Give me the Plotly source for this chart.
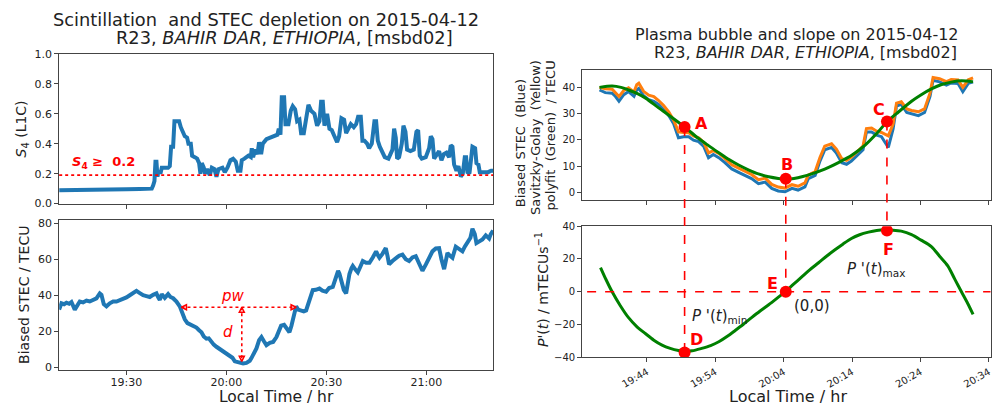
import plotly.graph_objects as go
import pandas as pd

BASE = pd.Timestamp("2015-04-12 19:00:00")


def ts(m):
    return (BASE + pd.Timedelta(minutes=m)).strftime("%Y-%m-%d %H:%M:%S.%f")[:-3]


def tlist(ms):
    return [ts(m) for m in ms]


# ---------------- data (time in minutes after 19:00 local time) ----------------
s4_min = [9.8, 14, 18, 22, 26, 30, 34, 37.6, 38.0, 38.4, 38.7, 39.0, 39.3, 39.7, 40.2, 40.6,
          42.5, 43.0, 43.4, 44.0, 44.4, 45.8, 46.3, 47.0, 47.5, 48.2, 48.6, 49.3, 49.7, 50.5,
          51.2, 51.8, 52.2, 52.6, 53.2, 53.6, 54.2, 55.0, 55.6, 56.4, 57.0, 57.6, 58.8, 59.5,
          60.3, 61.2, 62.0, 62.8, 63.4, 64.2, 64.6, 65.4, 66.6, 67.3, 67.6, 68.0, 68.6, 69.3,
          69.8, 70.4, 70.9, 72.0, 73.0, 74.2, 75.3, 75.7, 76.2, 76.6, 77.3, 77.7, 78.6, 79.3,
          79.9, 80.6, 81.2, 81.9, 82.4, 83.2, 83.8, 84.6, 85.4, 86.4, 87.2, 87.9, 88.4, 88.9,
          89.4, 90.2, 90.9, 91.6, 92.4, 93.2, 93.8, 94.5, 95.3, 95.9, 96.6, 97.3, 98.2, 98.9,
          99.5, 100.3, 100.8, 101.4, 102.2, 102.8, 103.6, 104.4, 104.9, 105.4, 106.0, 106.8,
          107.5, 108.6, 109.8, 110.3, 110.8, 111.2, 111.8, 112.6, 113.1, 113.7, 114.2, 115.2,
          116.2, 117.0, 117.5, 118.0, 118.6, 119.8, 120.8, 121.3, 121.8, 122.3, 123.0, 123.8,
          124.5, 125.2, 126.0, 126.8, 127.3, 127.8, 128.3, 129.0, 129.6, 130.3, 130.9, 131.5,
          131.9, 132.3, 132.9, 133.4, 133.8, 134.6, 135.0, 135.6, 136.0, 137.5, 138.5, 139.4, 140.0]
s4_val = [0.09, 0.09, 0.092, 0.094, 0.095, 0.096, 0.098, 0.10, 0.12, 0.15, 0.28, 0.28, 0.18, 0.22, 0.20, 0.24,
          0.24, 0.25, 0.38, 0.38, 0.55, 0.55, 0.51, 0.48, 0.45, 0.44, 0.40, 0.40, 0.32, 0.31,
          0.30, 0.27, 0.20, 0.27, 0.24, 0.20, 0.23, 0.19, 0.24, 0.23, 0.18, 0.23, 0.24, 0.21,
          0.24, 0.29, 0.30, 0.28, 0.22, 0.22, 0.29, 0.30, 0.32, 0.31, 0.37, 0.31, 0.36, 0.33,
          0.41, 0.33, 0.40, 0.43, 0.44, 0.45, 0.46, 0.50, 0.46, 0.71, 0.71, 0.53, 0.53, 0.62,
          0.65, 0.63, 0.55, 0.56, 0.47, 0.47, 0.55, 0.66, 0.62, 0.60, 0.52, 0.55, 0.68, 0.68,
          0.52, 0.60, 0.50, 0.49, 0.45, 0.41, 0.45, 0.57, 0.56, 0.47, 0.50, 0.53, 0.51, 0.53,
          0.58, 0.58, 0.42, 0.42, 0.40, 0.37, 0.40, 0.55, 0.55, 0.42, 0.38, 0.34,
          0.31, 0.30, 0.36, 0.50, 0.44, 0.30, 0.31, 0.40, 0.52, 0.48, 0.36, 0.35,
          0.36, 0.48, 0.49, 0.32, 0.30, 0.31, 0.37, 0.45, 0.43, 0.30, 0.33, 0.35,
          0.29, 0.33, 0.34, 0.31, 0.39, 0.38, 0.26, 0.22, 0.25, 0.18, 0.20, 0.31,
          0.31, 0.21, 0.20, 0.32, 0.38, 0.37, 0.27, 0.26, 0.21, 0.21, 0.21, 0.22, 0.22]
s4_threshold = 0.19

stec_min = [9.8, 10.5, 11.3, 12.0, 12.8, 13.5, 14.5, 15.0, 16.0, 17.0, 18.0, 19.0, 20.0, 21.0,
            22.0, 22.5, 23.2, 24.0, 25.0, 26.0, 27.0, 28.0, 29.0, 30.0, 31.0, 32.0, 33.0, 34.0,
            35.0, 36.0, 37.0, 38.0, 39.0, 39.5, 40.0, 40.6, 41.5, 42.5, 43.2, 44.0, 45.0, 46.0,
            46.8, 47.5, 48.3, 49.0, 50.0, 51.0, 51.8, 52.5, 53.2, 54.0, 54.7, 55.5, 56.2, 57.0,
            58.0, 59.0, 60.0, 61.0, 61.8, 62.5, 63.5, 64.0, 65.0, 66.0, 67.0, 67.5, 68.3, 69.0,
            69.8, 70.5, 71.2, 72.0, 73.0, 74.0, 75.0, 75.8, 76.4, 77.3, 78.0, 78.9, 79.5, 79.9,
            80.5, 80.9, 81.5, 82.5, 83.2, 83.9, 84.5, 85.2, 85.9, 86.8, 87.9, 88.8, 89.9, 90.8,
            91.9, 92.5, 92.9, 93.5, 93.9, 94.5, 95.2, 95.9, 96.5, 96.9, 97.5, 97.9, 98.8, 99.4,
            100.2, 100.9, 101.9, 102.9, 103.9, 104.9, 105.5, 105.9, 106.8, 107.8, 108.3, 108.8,
            109.8, 110.8, 111.8, 112.8, 113.8, 114.8, 115.8, 116.8, 117.8, 118.8, 119.8, 120.8,
            121.8, 122.8, 123.8, 124.5, 125.3, 125.8, 126.3, 127.0, 127.8, 128.8, 129.8, 130.8,
            131.5, 132.3, 133.2, 133.8, 134.5, 135.0, 135.8, 136.8, 137.8, 138.8, 139.3, 140.0]
stec_val = [32, 35.5, 35.0, 35.8, 35.2, 36.2, 32, 33.5, 36.5, 36.0, 37.0, 36.5, 37.4, 38.2,
            41.0, 40.2, 35, 33.8, 35.5, 36.5, 36.5, 37.2, 38.0, 38.8, 40.0, 41.0, 42.4, 41.2,
            40.0, 39.5, 39.0, 40.2, 41.0, 39.0, 37.4, 40.6, 38.5, 40.6, 39, 38.3, 36.5, 33.8,
            30.0, 26.6, 24.5, 24.0, 23.0, 22.0, 20.5, 19.4, 17.0, 15.8, 16.0, 14.0, 12.5, 11.3,
            10.0, 8.6, 7.0, 5.9, 5.2, 3.2, 2.6, 2.3, 2.0, 2.3, 3.5, 5.0, 8.0, 10.4,
            15.0, 16.7, 14.5, 12.2, 13.5, 14.0, 16.7, 20.0, 23.0, 23.5, 22.0, 19.4, 23.0, 26.6,
            30.0, 33.8, 32.0, 31.5, 31.0, 31.5, 35.0, 40.0, 42.8, 43.0, 43.7, 42.5, 41.9, 44.0,
            44.6, 48.0, 50.0, 53.6, 52.0, 48.2, 43.0, 41.0, 48.0, 51.8, 55.0, 56.3, 54.0, 52.7,
            56.0, 59.0, 58.0, 58.0, 61.0, 64.4, 62.0, 60.8, 63.0, 66.2, 62.0, 57.2,
            59.0, 60.8, 62.0, 62.6, 60.0, 59.0, 61.0, 61.7, 58.0, 53.6, 57.0, 60.8,
            64.4, 66.0, 66.2, 60.0, 54.5, 59.0, 63.5, 62.0, 60.8, 67.0, 65.5, 64.4,
            67.0, 69.8, 72.0, 77.0, 74.0, 69.0, 69.8, 71.0, 73.3, 71.6, 74.0, 76.0]

# depletion annotation (pw / d)
pw_start, pw_end, pw_level = 46.5, 80.9, 33.3
d_time, d_bottom = 64.6, 3.2

# right panel: STEC (blue), Savitzky-Golay (orange), polyfit (green)
bub_min = [37.05, 37.9, 38.9, 39.4, 39.9, 40.6, 41.3, 42.1, 42.5, 42.8, 43.5, 44.25, 45.0, 45.7,
           46.4, 47.2, 47.9, 48.3, 48.6, 49.35, 50.1, 50.8, 51.55, 52.3, 53.0, 53.7, 54.5, 55.4,
           56.4, 57.4, 58.4, 59.3, 60.3, 61.3, 62.25, 63.2, 64.2, 65.2, 66.1, 67.1, 67.6, 68.6,
           69.3, 70.0, 71.0, 71.7, 72.5, 73.2, 73.9, 74.9, 75.6, 76.1, 76.85, 77.6, 78.3, 79.3,
           80.0, 80.5, 81.2, 82.0, 82.7, 83.7, 84.6, 85.4, 85.85, 86.8, 87.8, 88.5, 89.5, 90.2,
           91.0, 91.7]
bub_blue = [39.0, 38.0, 37.8, 36.5, 34.7, 37.2, 38.4, 36.6, 39.0, 39.6, 36.8, 35.3, 34.7, 33.5,
            31.6, 29.2, 26.1, 23.0, 20.8, 21.2, 21.2, 19.9, 19.3, 17.5, 13.2, 14.4, 13.2, 11.3,
            8.9, 7.6, 6.4, 5.2, 3.3, 3.9, 1.5, 0.5, 0.2, 1.5, 0.85, 2.1, 5.2, 6.4,
            11.9, 16.2, 17.1, 15.0, 11.3, 10.7, 11.9, 14.4, 16.2, 23.0, 23.0, 21.8, 21.2, 17.1,
            24.2, 32.9, 33.5, 30.4, 29.8, 29.2, 30.4, 36.6, 42.7, 42.1, 40.9, 41.7, 41.5, 38.4,
            41.5, 42.1]
bub_orange = [40.0, 39.5, 39.3, 38.0, 36.5, 38.8, 39.8, 38.2, 41.0, 41.6, 38.5, 37.0, 36.5, 35.0,
              33.2, 30.6, 27.5, 25.0, 23.0, 22.8, 22.7, 21.5, 20.8, 19.0, 15.0, 15.9, 14.8, 12.8,
              10.5, 9.2, 8.0, 6.8, 4.8, 5.4, 3.0, 2.0, 1.6, 2.9, 2.3, 3.6, 6.6, 7.9,
              13.3, 17.6, 18.5, 16.5, 12.8, 12.2, 13.4, 15.9, 17.6, 24.3, 24.5, 23.3, 22.8, 21.5,
              26.0, 34.0, 34.5, 31.8, 31.2, 30.7, 31.8, 37.8, 43.8, 43.3, 42.2, 43.0, 42.8, 40.0,
              42.9, 43.6]
fit_min = [37.05, 38.9, 40.2, 41.3, 42.6, 43.8, 45.7, 47.2, 49.5, 51.5, 53.0, 54.45, 56.0, 57.4,
           58.9, 60.3, 61.8, 63.2, 64.3, 65.5, 66.8, 68.1, 70.0, 72.0, 74.0, 75.9, 77.8, 79.1,
           80.5, 82.7, 84.0, 85.6, 87.0, 88.5, 90.0, 91.7]
fit_val = [40.0, 40.5, 40.0, 39.0, 37.6, 35.9, 32.2, 29.4, 24.9, 20.6, 17.8, 15.2, 12.5, 10.4,
           8.5, 7.0, 5.9, 5.3, 5.1, 5.3, 6.0, 7.0, 8.8, 11.3, 14.2, 18.0, 23.0, 26.9,
           30.0, 34.7, 37.0, 39.4, 41.0, 42.0, 42.5, 42.1]

# slope of the polyfit (mTECU/s)
der_min = [37.2, 38.0, 38.9, 40.1, 41.3, 42.5, 43.8, 45.0, 46.2, 47.4, 48.6, 49.5, 50.6, 52.0,
           53.3, 54.5, 55.7, 56.9, 58.1, 59.3, 60.5, 61.8, 63.0, 64.2, 65.4, 66.6, 67.8, 69.1,
           70.3, 71.5, 72.7, 73.9, 75.1, 76.4, 77.6, 78.8, 80.0, 81.2, 82.7, 84.1, 85.6, 86.8,
           88.0, 89.0, 90.0, 90.9, 91.7]
der_val = [14.8, 7.5, 0.0, -8.5, -15.8, -21.2, -25.6, -29.5, -32.5, -34.5, -35.8, -36.3, -36.0, -34.5,
           -32.8, -30.5, -27.3, -23.6, -19.8, -15.8, -11.9, -7.9, -4.0, 0.0, 4.5, 8.9, 13.4, 17.7,
           21.8, 25.6, 29.2, 32.5, 34.8, 36.4, 37.4, 37.8, 37.6, 37.0, 34.9, 31.5, 27.6, 21.7,
           15.8, 7.9, 0.0, -7.0, -13.8]

# key points A-F
pt_labels_top = ["A", "B", "C"]
pt_time = [49.5, 64.3, 79.1]
pt_top_val = [24.9, 5.2, 27.0]
pt_labels_bot = ["D", "E", "F"]
pt_bot_val = [-37.0, 0.0, 37.4]
top_lbl_pos = [(51.9, 26.1), (64.5, 10.5), (78.0, 31.4)]
bot_lbl_pos = [(51.2, -29.0), (62.3, 4.9), (79.3, 25.6)]
zero_line_start = 35.24

# ---------------- layout geometry ----------------
W, H = 997, 416
LX = [59.3 / W, 494 / W]
RX = [583.3 / W, 992.7 / W]
LY_TOP = [1 - 204 / H, 1 - 49.3 / H]
LY_BOT = [1 - 375.7 / H, 1 - 221 / H]
RY_TOP = [1 - 200 / H, 1 - 65.7 / H]
RY_BOT = [1 - 362.7 / H, 1 - 227.3 / H]
L_RANGE = [ts(9.82), ts(139.97)]
R_RANGE = [ts(34.51), ts(94.28)]
R_TOP_Y = [-2.84, 46.76]
R_BOT_Y = [-40, 40]

AX = "#444444"
TXT = "#222222"
RED = "#ff0000"
BLUE = "#1f77b4"
ORANGE = "#ff7f0e"
GREEN = "#008000"
FONT = "DejaVu Sans"

fig = go.Figure()

# left top: S4
fig.add_trace(go.Scatter(x=tlist(s4_min), y=s4_val, mode="lines",
                         line=dict(color=BLUE, width=4), xaxis="x", yaxis="y"))
# left bottom: STEC
fig.add_trace(go.Scatter(x=tlist(stec_min), y=stec_val, mode="lines",
                         line=dict(color=BLUE, width=4), xaxis="x2", yaxis="y2"))
# right top
fig.add_trace(go.Scatter(x=tlist(bub_min), y=bub_blue, mode="lines",
                         line=dict(color=BLUE, width=3), xaxis="x3", yaxis="y3"))
fig.add_trace(go.Scatter(x=tlist(bub_min), y=bub_orange, mode="lines",
                         line=dict(color=ORANGE, width=3), xaxis="x3", yaxis="y3"))
fig.add_trace(go.Scatter(x=tlist(fit_min), y=fit_val, mode="lines",
                         line=dict(color=GREEN, width=3, shape="spline", smoothing=0.8),
                         xaxis="x3", yaxis="y3"))
fig.add_trace(go.Scatter(x=tlist(pt_time), y=pt_top_val, mode="markers",
                         marker=dict(color=RED, size=12), xaxis="x3", yaxis="y3"))
# right bottom
fig.add_trace(go.Scatter(x=tlist(der_min), y=der_val, mode="lines",
                         line=dict(color=GREEN, width=3, shape="spline", smoothing=0.8),
                         xaxis="x4", yaxis="y4"))
fig.add_trace(go.Scatter(x=tlist(pt_time), y=pt_bot_val, mode="markers",
                         marker=dict(color=RED, size=12), xaxis="x4", yaxis="y4"))
# arrow heads of pw / d (apex on the end points)
fig.add_trace(go.Scatter(x=tlist([pw_start, pw_end, d_time, d_time]),
                         y=[pw_level, pw_level, pw_level, d_bottom], mode="markers",
                         marker=dict(symbol=["arrow-left-open", "arrow-right-open",
                                             "arrow-up-open", "arrow-down-open"],
                                     size=5, color=RED, line=dict(color=RED, width=1.5)),
                         xaxis="x2", yaxis="y2"))


def axis_common(**kw):
    d = dict(showline=True, mirror=True, linecolor=AX, linewidth=1, ticks="outside",
             ticklen=4, tickcolor=AX, showgrid=False, zeroline=False,
             tickfont=dict(family=FONT, size=11, color=TXT))
    d.update(kw)
    return d


fig.update_layout(
    width=W, height=H, showlegend=False,
    margin=dict(l=0, r=0, t=0, b=0),
    paper_bgcolor="white", plot_bgcolor="rgba(0,0,0,0)",
    font=dict(family=FONT, color=TXT),
    xaxis=axis_common(domain=LX, anchor="y", type="date", range=L_RANGE,
                      tick0=ts(30), dtick=30 * 60 * 1000, showticklabels=False),
    yaxis=axis_common(domain=LY_TOP, anchor="x", range=[0, 1], dtick=0.2, tickformat=".1f"),
    xaxis2=axis_common(domain=LX, anchor="y2", type="date", range=L_RANGE,
                       tick0=ts(30), dtick=30 * 60 * 1000, tickformat="%H:%M",
                       ticklabelstandoff=-2),
    yaxis2=axis_common(domain=LY_BOT, anchor="x2", range=[-1.6, 81.8], dtick=20),
    xaxis3=axis_common(domain=RX, anchor="y3", type="date", range=R_RANGE,
                       tick0=ts(44), dtick=10 * 60 * 1000, showticklabels=False),
    yaxis3=axis_common(domain=RY_TOP, anchor="x3", range=R_TOP_Y, dtick=10,
                       tickfont=dict(family=FONT, size=10, color=TXT)),
    xaxis4=axis_common(domain=RX, anchor="y4", type="date", range=R_RANGE,
                       tick0=ts(44), dtick=10 * 60 * 1000, tickformat="%H:%M", tickangle=-30,
                       tickfont=dict(family=FONT, size=10, color=TXT)),
    yaxis4=axis_common(domain=RY_BOT, anchor="x4", range=R_BOT_Y, dtick=20,
                       tickfont=dict(family=FONT, size=10, color=TXT)),
)


def paper_y(val, dom, rng):
    return dom[0] + (val - rng[0]) / (rng[1] - rng[0]) * (dom[1] - dom[0])


shapes = []
# S4 threshold
shapes.append(dict(type="line", xref="x domain", yref="y", x0=0, x1=1,
                   y0=s4_threshold, y1=s4_threshold, line=dict(color=RED, width=1.6, dash="dot")))
# pw and d
shapes.append(dict(type="line", xref="x2", yref="y2", x0=ts(pw_start), x1=ts(pw_end),
                   y0=pw_level, y1=pw_level, line=dict(color=RED, width=1.6, dash="dot")))
shapes.append(dict(type="line", xref="x2", yref="y2", x0=ts(d_time), x1=ts(d_time),
                   y0=pw_level, y1=d_bottom, line=dict(color=RED, width=1.6, dash="dot")))
# vertical dashed links A-D, B-E, C-F
for t, vt, vb in zip(pt_time, pt_top_val, pt_bot_val):
    shapes.append(dict(type="line", xref="x4", yref="paper", x0=ts(t), x1=ts(t),
                       y0=paper_y(vt, RY_TOP, R_TOP_Y), y1=paper_y(vb, RY_BOT, R_BOT_Y),
                       line=dict(color=RED, width=1.6, dash="dash")))
# zero line
shapes.append(dict(type="line", xref="x4", yref="y4", x0=ts(zero_line_start), x1=R_RANGE[1],
                   y0=0, y1=0, line=dict(color=RED, width=1.6, dash="dash")))
fig.update_layout(shapes=shapes)

ann = []


def txt(text, x, y, size, xref="paper", yref="paper", color=TXT, angle=0, xanchor="center", **kw):
    d = dict(text=text, x=x, y=y, xref=xref, yref=yref, showarrow=False, textangle=angle,
             xanchor=xanchor, yanchor="middle", font=dict(family=FONT, size=size, color=color))
    d.update(kw)
    ann.append(d)


# titles
txt("Scintillation\u00a0 and STEC depletion on 2015-04-12", 266.7 / W, 1 - 13.6 / H, 17.8)
txt("R23, <i>BAHIR DAR</i>, <i>ETHIOPIA</i>, [msbd02]", 285 / W, 1 - 33 / H, 17.8)
txt("Plasma bubble and slope on 2015-04-12", 799 / W, 1 - 29.3 / H, 16)
txt("R23, <i>BAHIR DAR</i>, <i>ETHIOPIA</i>, [msbd02]", 807.5 / W, 1 - 48.3 / H, 16)
# axis titles
txt("<i>S</i><sub>4</sub> (L1C)", 21.7 / W, 1 - 126.7 / H, 14, angle=-90)
txt("Biased STEC / TECU", 23.3 / W, 1 - 298 / H, 14, angle=-90)
txt("Local Time / hr", 276.7 / W, 1 - 403.5 / H, 15.5)
txt("Biased STEC\u00a0 (Blue)", 521.7 / W, 1 - 142 / H, 13, angle=-90)
txt("Savitzky-Golay\u00a0 (Yellow)", 537.3 / W, 1 - 136 / H, 13, angle=-90)
txt("polyfit\u00a0 (Green)\u00a0 / TECU", 551.7 / W, 1 - 134 / H, 13, angle=-90)
txt("<i>P'</i>(<i>t</i>) / mTECUs<sup>−1</sup>", 543.3 / W, 1 - 293 / H, 14, angle=-90)
txt("Local Time / hr", 789.2 / W, 1 - 403.5 / H, 16)
# in-plot labels
txt("<b><i>S</i><sub>4</sub> ≥\u00a0 0.2</b>", ts(23.0), 0.273, 13, xref="x", yref="y", color=RED)
txt("<i>pw</i>", ts(62.1), 39.5, 15, xref="x2", yref="y2", color=RED)
txt("<i>d</i>", ts(60.5), 19.8, 15, xref="x2", yref="y2", color=RED)
for lab, (t, v) in zip(pt_labels_top, top_lbl_pos):
    txt("<b>%s</b>" % lab, ts(t), v, 16, xref="x3", yref="y3", color=RED)
for lab, (t, v) in zip(pt_labels_bot, bot_lbl_pos):
    txt("<b>%s</b>" % lab, ts(t), v, 16, xref="x4", yref="y4", color=RED)
txt("<i>P '</i>(<i>t</i>)<sub>min</sub>", ts(50.3), -14.8, 15, xref="x4", yref="y4", xanchor="left")
txt("<i>P '</i>(<i>t</i>)<sub>max</sub>", ts(72.96), 13.8, 15, xref="x4", yref="y4", xanchor="left")
txt("(0,0)", ts(65.17), -8.9, 15, xref="x4", yref="y4", xanchor="left")

fig.update_layout(annotations=ann)
fig.write_html("out.html", config={"displayModeBar": False},
               post_script="document.body.style.margin='0';document.body.style.overflow='hidden';")
